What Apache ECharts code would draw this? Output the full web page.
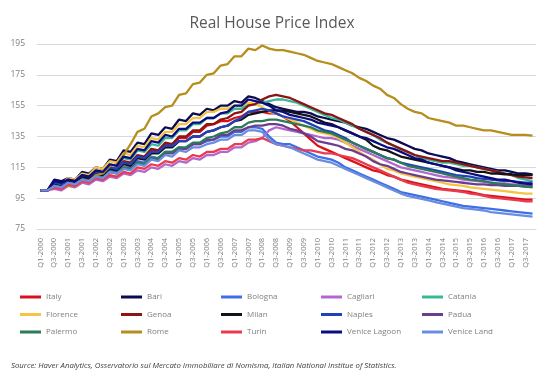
<!DOCTYPE html>
<html>
<head>
<meta charset="utf-8">
<script src="https://cdn.jsdelivr.net/npm/echarts@6/dist/echarts.min.js"></script>
<style>
html,body{margin:0;padding:0;background:#fff;}
#c{width:544px;height:381px;}
</style>
</head>
<body>
<div id="c"></div>
<script>
const years = [2000,2001,2002,2003,2004,2005,2006,2007,2008,2009,2010,2011,2012,2013,2014,2015,2016,2017];
const quarters = ['Q1','Q2','Q3','Q4'];
const yTicks = [75, 95, 115, 135, 155, 175, 195];

const italy = [
100,100,104,103, 106,105,109,108, 111,110,114,113, 118,117,122,121,
126,125,130,130, 134,134,138,138, 142,143,145,145, 147,148,151,151,
151,150,150,148, 145,141,137,133, 129,127,125,123, 121,119,117,115,
113,112,110,109, 107,106,105,104, 103,102,101,100.5, 100,99.5,99,98,
97,96.5,96,95.5, 95,94.5,94,94];
const bari = [
100,100,107,106, 108,107,112,111, 115,114,120,119, 126,125,131,130,
137,136,141,140, 146,145,150,149, 153,152,155,155, 158,157,161,160,
158,156,154,153, 152,151,151,150, 148,147,146,145, 144,142,141,140,
138,136,134,133, 131,129,127,126, 124,123,122,121, 119,118,117,116,
115,114,113,113, 112,111,111,110.5];
const bologna = [
100,100,104,103, 106,105,108,107, 110,109,113,112, 115,115,119,118,
122,121,125,125, 128,127,130,130, 132,133,135,135, 138,138,141,141,
140,135,131,130, 130,128,126,124, 122,121,120,118, 115,113,111,109,
107,105,103,101, 99,98,97,96, 95,94,93,92, 91,90,89.5,89,
88.5,88,87.5,87, 86.5,86,85.5,85];
const cagliari = [
100,100,101,100, 103,102,105,104, 107,106,109,108, 111,110,113,112,
115,114,117,116, 119,118,121,120, 123,123,125,125, 128,128,131,132,
134,139,141,140, 139,138,137,136, 135,134,134,133, 131,129,127,125,
123,121,119,117, 115,114,113,112, 111,110,109,108.5, 108,107,106.5,106,
105.5,105,104.5,104.5, 104,104,103.5,103.5];
const catania = [
100,100,105,104, 107,106,110,109, 113,112,117,116, 121,120,126,125,
130,129,134,134, 139,139,143,143, 147,147,150,150, 153,153,156,156,
157,158,159,159, 158,157,155,153, 151,149,147,146, 144,142,140,138,
136,133,131,129, 127,125,123,121, 120,119,118,118, 117,116,116,115,
114,113,112,111, 110,108,107,106];
const florence = [
100,100,105,104, 108,107,111,110, 115,114,119,118, 124,123,129,128,
134,133,138,138, 143,143,147,147, 151,151,153,153, 155,155,157,156,
154,151,150,148, 146,144,142,140, 138,137,136,134, 131,128,125,122,
120,117,114,113, 111,110,109,108, 107,106,105,104, 103.5,103,102,101.5,
101,100.5,100,99.5, 99,98.5,98,98];
const genoa = [
100,100,104,103, 106,105,109,108, 112,111,115,114, 119,118,123,122,
127,126,131,130, 135,135,139,139, 143,143,146,147, 150,151,155,156,
159,161,162,161, 160,158,156,154, 152,150,149,147, 145,143,140,138,
136,134,131,129, 127,125,123,122, 121,120,119,119, 118,117,116,115,
114,113,112,111, 110,109,108.5,108];
const milan = [
100,100,104,103, 106,105,109,108, 111,110,114,113, 117,116,121,120,
124,124,128,128, 132,132,135,135, 138,139,141,142, 145,146,149,150,
151,152,152,152, 151,150,149,148, 146,144,143,141, 139,137,135,133,
129,127,126,124, 122,121,120,119, 118,117,116,115, 114,113,113,112,
112,111,111,110.5, 110.5,110,110,110];
const naples = [
100,100,105,104, 107,106,110,109, 112,111,115,114, 118,117,122,121,
125,125,129,129, 132,132,135,135, 138,139,141,142, 145,147,151,152,
153,152,150,148, 147,146,145,143, 141,139,138,136, 134,131,129,127,
125,123,121,120, 118,117,116,115, 114,113,112,111, 110,109.5,109,108,
107.5,107,106.5,106, 106,105.5,105,105];
const padua = [
100,100,103,102, 105,104,107,106, 109,108,112,111, 114,114,118,117,
121,120,124,124, 127,127,130,130, 133,133,136,136, 139,139,141,142,
142,143,143,142, 140,139,137,135, 132,131,130,129, 127,126,124,122,
119,117,116,114, 112,111,110,109, 108,107,106.5,106, 105.5,105,104.5,104,
104,103.5,103.5,103, 103,103,102.5,102.5];
const palermo = [
100,100,103,102, 105,104,107,106, 109,108,112,111, 115,114,118,117,
121,121,125,125, 128,128,131,131, 134,135,137,138, 141,141,144,145,
145,146,146,145, 144,143,142,141, 139,138,137,135, 133,131,129,127,
125,123,121,120, 118,116,115,114, 113,112,111,110, 109,108,107,106.5,
106,105,104.5,104, 103.5,103,102.5,102];
const rome = [
100,100,102,102, 103,103,106,106, 110,111,116,117, 123,130,138,140,
148,150,154,155, 162,163,169,170, 175,176,181,182, 187,187,192,191,
194,192,191,191, 190,189,188,186, 184,183,182,180, 178,176,173,171,
168,166,162,160, 156,153,151,150, 147,146,145,144, 142,142,141,140,
139,139,138,137, 136,136,136,135.5];
const turin = [
100,100,102,101, 104,103,106,105, 108,107,110,109, 112,111,115,114,
117,116,119,118, 121,120,123,122, 125,125,127,127, 130,130,133,133,
134,132,130,129, 128,127,126,126, 125,124,124,123, 122,121,119,117,
115,113,111,109, 107,105,104,103, 102,101,100.5,100, 99.5,99,98,97.5,
96.5,95.5,95,94.5, 94,93.5,93,93];
const veniceLagoon = [
100,100,106,105, 107,106,110,109, 113,112,117,116, 122,121,127,126,
132,131,136,135, 140,140,144,144, 147,147,150,151, 155,155,159,158,
157,155,152,151, 149,148,147,146, 144,143,142,141, 139,137,135,134,
132,130,128,127, 125,123,121,120, 118,117,116,115, 113,112,111,110,
109,108,107,107, 106,105,104.5,104];
const veniceLand = [
100,100,103,102, 105,104,107,106, 109,108,112,111, 114,113,117,116,
120,119,123,122, 126,125,128,128, 130,131,133,133, 136,136,139,139,
138,133,130,129, 128,126,124,122, 120,119,118,116, 114,112,110,108,
106,104,102,100, 98,96.5,95.5,94.5, 93.5,92.5,91.5,90.5, 89.5,88.5,88,87.5,
87,86,85.5,85, 84.5,84,83.5,83];

const categories = [];
years.forEach(y => quarters.forEach(q => categories.push(q + '-' + y)));

const seriesDefs = [
  ['Italy', italy, '#d9111b'],
  ['Bari', bari, '#0b0b52'],
  ['Bologna', bologna, '#3e6fe6'],
  ['Cagliari', cagliari, '#b466cc'],
  ['Catania', catania, '#38b894'],
  ['Florence', florence, '#f6c445'],
  ['Genoa', genoa, '#8c1414'],
  ['Milan', milan, '#121218'],
  ['Naples', naples, '#2241b8'],
  ['Padua', padua, '#6b3d8e'],
  ['Palermo', palermo, '#2c7a58'],
  ['Rome', rome, '#b58e1e'],
  ['Turin', turin, '#ea3a4c'],
  ['Venice Lagoon', veniceLagoon, '#0b0b7e'],
  ['Venice Land', veniceLand, '#6b8ddf']
];

const legendCols = [
  ['Italy', 'Florence', 'Palermo'],
  ['Bari', 'Genoa', 'Rome'],
  ['Bologna', 'Milan', 'Turin'],
  ['Cagliari', 'Naples', 'Venice Lagoon'],
  ['Catania', 'Padua', 'Venice Land']
];
const legendLeft = [20, 121, 221, 321, 422];

const FONT = "'Open Sans', 'Noto Sans', sans-serif";

const chart = echarts.init(document.getElementById('c'), null, {renderer: 'canvas'});
chart.setOption({
  animation: false,
  backgroundColor: '#ffffff',
  title: [
    {
      text: 'Real House Price Index',
      left: 'center',
      top: 11,
      textStyle: {fontFamily: FONT, fontSize: 15.5, fontWeight: 'normal', color: '#595959'}
    },
    {
      text: 'Source: Haver Analytics, Osservatorio sul Mercato Immobiliare di Nomisma, Italian National Institue of Statistics.',
      left: 6,
      top: 357,
      textStyle: {fontFamily: FONT, fontSize: 7.8, fontStyle: 'italic', fontWeight: 'normal', color: '#404040'}
    }
  ],
  legend: legendCols.map((col, k) => ({
    orient: 'vertical',
    left: legendLeft[k],
    top: 291,
    padding: 0,
    itemGap: 5.5,
    itemWidth: 21,
    itemHeight: 3,
    icon: 'rect',
    data: col,
    selectedMode: false,
    textStyle: {fontFamily: FONT, fontSize: 8, color: '#7f7f7f', lineHeight: 12}
  })),
  grid: {left: 37, right: 8, top: 44, bottom: 152, containLabel: false},
  xAxis: {
    type: 'category',
    data: categories,
    boundaryGap: true,
    axisLine: {show: true, lineStyle: {color: '#d9d9d9', width: 1}},
    axisTick: {show: false},
    axisLabel: {
      interval: 1,
      rotate: 90,
      margin: 9,
      fontFamily: FONT,
      fontSize: 7.5,
      color: '#7f7f7f'
    },
    splitLine: {show: false}
  },
  yAxis: {
    type: 'value',
    min: yTicks[0],
    max: yTicks[yTicks.length - 1],
    interval: 20,
    axisLine: {show: false},
    axisTick: {show: false},
    axisLabel: {margin: 12, fontFamily: FONT, fontSize: 8.5, color: '#7f7f7f'},
    splitLine: {lineStyle: {color: '#d9d9d9', width: 1}}
  },
  series: seriesDefs.map(([name, data, color]) => ({
    name: name,
    type: 'line',
    data: data,
    symbol: 'none',
    showSymbol: false,
    lineStyle: {width: 2.3, color: color},
    itemStyle: {color: color},
    emphasis: {disabled: true}
  }))
});
</script>
</body>
</html>
